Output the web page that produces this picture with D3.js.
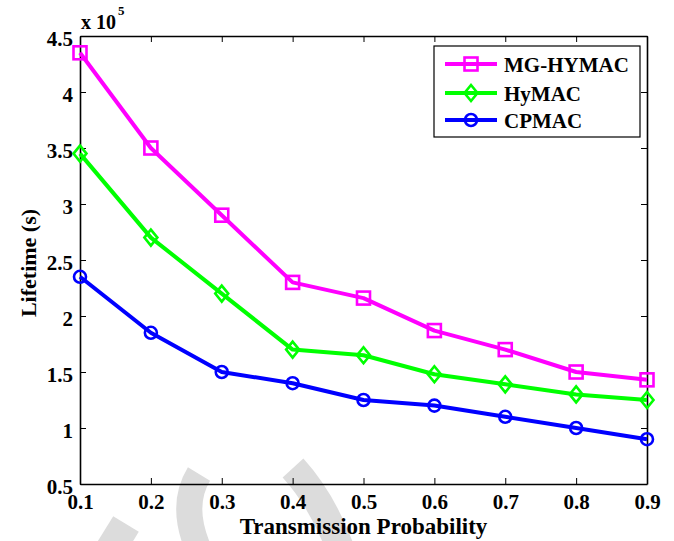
<!DOCTYPE html>
<html>
<head>
<meta charset="utf-8">
<script src="https://cdn.jsdelivr.net/npm/d3@7"></script>
<style>
  html, body { margin: 0; padding: 0; background: #fff; }
  svg { display: block; }
  text { font-family: "Liberation Serif", "Times New Roman", serif; font-weight: bold; fill: #000; }
</style>
</head>
<body>
<svg id="chart" width="674" height="541"></svg>
<script>
// ---- data ----
const probabilities = [0.1, 0.2, 0.3, 0.4, 0.5, 0.6, 0.7, 0.8, 0.9];
const mgHymac = [4.35, 3.50, 2.90, 2.30, 2.16, 1.87, 1.70, 1.50, 1.43];
const hymac   = [3.45, 2.70, 2.20, 1.70, 1.65, 1.48, 1.39, 1.30, 1.25];
const cpmac   = [2.35, 1.85, 1.50, 1.40, 1.25, 1.20, 1.10, 1.00, 0.90];
const seriesNames = ["MG-HYMAC", "HyMAC", "CPMAC"];
const seriesColors = ["#ff00ff", "#00ff00", "#0000ff"];
const seriesMarkers = ["square", "diamond", "circle"];
const xTickLabels = ["0.1", "0.2", "0.3", "0.4", "0.5", "0.6", "0.7", "0.8", "0.9"];
const yTickValues = [0.5, 1, 1.5, 2, 2.5, 3, 3.5, 4, 4.5];
const xTitle = "Transmission Probability";
const yTitle = "Lifetime (s)";

const seriesValues = [mgHymac, hymac, cpmac];

const svg = d3.select("#chart");
const pLeft = 80, pRight = 647, pTop = 36, pBottom = 484;

const x = d3.scaleLinear().domain([0.1, 0.9]).range([pLeft, pRight]);
const y = d3.scaleLinear().domain([0.5, 4.5]).range([pBottom, pTop]);

// watermark arcs (light gray)
const wm = svg.append("g").attr("fill", "none").attr("stroke", "#dcdcdc");
wm.append("path").attr("d", "M293,468 Q322,500 340,548").attr("stroke-width", 28);
wm.append("path").attr("d", "M199,474 Q180,505 198,548").attr("stroke-width", 26);
wm.append("path").attr("d", "M110,550 L126,524").attr("stroke-width", 30);

// axes
const tickLen = 6;
const xAxisB = d3.axisBottom(x).tickValues(probabilities).tickFormat((d, i) => xTickLabels[i]).tickSizeInner(-tickLen).tickSizeOuter(0).tickPadding(10);
const xAxisT = d3.axisTop(x).tickValues(probabilities).tickFormat("").tickSizeInner(-tickLen).tickSizeOuter(0);
const yAxisL = d3.axisLeft(y).tickValues(yTickValues).tickFormat(d3.format("")).tickSizeInner(-tickLen).tickSizeOuter(0).tickPadding(7);
const yAxisR = d3.axisRight(y).tickValues(yTickValues).tickFormat("").tickSizeInner(-tickLen).tickSizeOuter(0);

function styleAxis(g) {
  g.selectAll("path.domain").attr("stroke", "#000").attr("stroke-width", 1.6);
  g.selectAll(".tick line").attr("stroke", "#000").attr("stroke-width", 1);
  g.selectAll(".tick text").style("font-family", '"Liberation Serif", serif').style("font-weight", "bold").style("font-size", "21px").attr("fill", "#000");
}

const gxb = svg.append("g").attr("transform", `translate(0,${pBottom})`).call(xAxisB).call(styleAxis);
gxb.selectAll(".tick text").attr("dy", "0.71em");
svg.append("g").attr("transform", `translate(0,${pTop})`).call(xAxisT).call(styleAxis);
const gyl = svg.append("g").attr("transform", `translate(${pLeft},0)`).call(yAxisL).call(styleAxis);
gyl.selectAll(".tick text").attr("dy", "0.46em");
svg.append("g").attr("transform", `translate(${pRight},0)`).call(yAxisR).call(styleAxis);

// series
function drawMarker(g, type, cx, cy, color) {
  if (type === "square") {
    g.append("rect").attr("x", cx - 6.5).attr("y", cy - 6.5).attr("width", 13).attr("height", 13)
      .attr("fill", "none").attr("stroke", color).attr("stroke-width", 2.6);
  } else if (type === "diamond") {
    g.append("path").attr("d", `M${cx},${cy - 8} L${cx + 6.5},${cy} L${cx},${cy + 8} L${cx - 6.5},${cy} Z`)
      .attr("fill", "none").attr("stroke", color).attr("stroke-width", 2.6);
  } else {
    g.append("circle").attr("cx", cx).attr("cy", cy).attr("r", 6)
      .attr("fill", "none").attr("stroke", color).attr("stroke-width", 2.6);
  }
}

const line = d3.line().x((d, i) => x(probabilities[i])).y(d => y(d));
seriesValues.forEach((vals, s) => {
  const g = svg.append("g");
  g.append("path").datum(vals).attr("d", line).attr("fill", "none")
    .attr("stroke", seriesColors[s]).attr("stroke-width", 4).attr("stroke-linejoin", "round");
  vals.forEach((v, i) => drawMarker(g, seriesMarkers[s], x(probabilities[i]), y(v), seriesColors[s]));
});

// exponent label
const expText = svg.append("text").attr("x", 81).attr("y", 29).style("font-size", "20px");
expText.append("tspan").text("x 10");
expText.append("tspan").attr("dy", -14).style("font-size", "13px").attr("dx", 2).text("5");

// axis titles
svg.append("text").attr("x", (pLeft + pRight) / 2).attr("y", 534).attr("text-anchor", "middle")
  .style("font-size", "23px").text(xTitle);
svg.append("text").attr("transform", "translate(36,263) rotate(-90)").attr("text-anchor", "middle")
  .style("font-size", "22px").text(yTitle);

// legend
const lg = svg.append("g");
lg.append("rect").attr("x", 434).attr("y", 46).attr("width", 206).attr("height", 91)
  .attr("fill", "#fff").attr("stroke", "#000").attr("stroke-width", 1.2);
const legendY = [64, 93, 120];
seriesNames.forEach((name, s) => {
  const ly = legendY[s];
  lg.append("line").attr("x1", 445).attr("x2", 497).attr("y1", ly).attr("y2", ly)
    .attr("stroke", seriesColors[s]).attr("stroke-width", 4);
  drawMarker(lg, seriesMarkers[s], 471, ly, seriesColors[s]);
  lg.append("text").attr("x", 504).attr("y", ly + 8).style("font-size", "21px").text(name);
});
</script>
</body>
</html>
